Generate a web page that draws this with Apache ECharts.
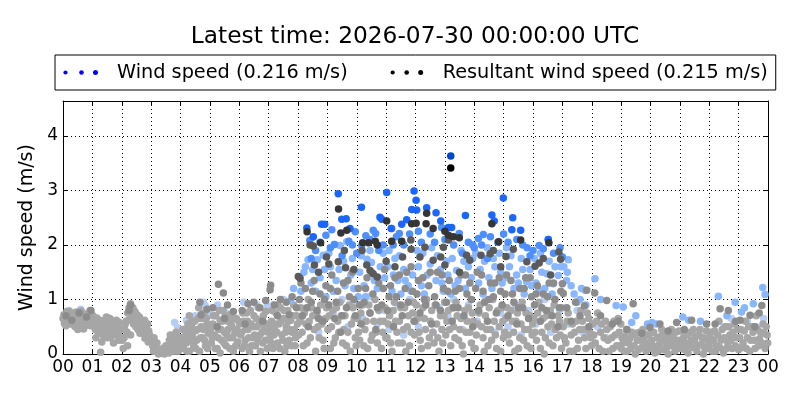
<!DOCTYPE html>
<html><head><meta charset="utf-8">
<script src="https://cdn.jsdelivr.net/npm/echarts/dist/echarts.min.js"></script>
<style>html,body{margin:0;padding:0;background:#fff}#c{width:800px;height:400px}</style>
</head><body><div id="c"></div>
<script>
const titleText = 'Latest time: 2026-07-30 00:00:00 UTC';
const windLabel = 'Wind speed (0.216 m/s)';
const resLabel = 'Resultant wind speed (0.215 m/s)';
const yAxisName = 'Wind speed (m/s)';
const hourLabels = ['00','01','02','03','04','05','06','07','08','09','10','11','12','13','14','15','16','17','18','19','20','21','22','23','00'];
const yTickLabels = ['0','1','2','3','4'];

// oldest wind speed (very light blue)
const windOld = [
[0.2,0.8],[0.6,0.82],[3.8,0.58],[3.9,0.48],[4.2,0.62],[4.5,0.7],[4.78,0.95],[4.85,0.88],[5.26,0.9],[5.55,0.75],[5.0,0.72],[6.15,0.95],[6.6,0.9],[6.95,0.88],[7.15,0.9],[7.65,0.6],[7.5,1.0],
[8.1,0.6],[8.4,0.85],[8.7,0.4],[8.9,0.95],[9.2,0.75],[9.5,1.0],[9.7,0.5],[9.95,0.9],[10.2,0.65],[10.4,1.05],[10.7,0.55],[10.95,0.8],[11.1,0.45],[11.4,0.9],[11.6,0.35],[11.8,1.0],[12.1,0.5],[12.35,0.95],[12.6,0.4],[12.8,0.85],[13.1,0.7],[13.3,1.0],[13.6,0.45],[13.8,0.9],[14.1,0.6],[14.4,1.0],[14.7,0.4],[14.9,0.75],[15.15,0.5],[15.4,0.9],[15.6,0.35],[15.85,0.8],[16.1,0.55],[16.4,1.0],[16.6,0.4],[16.9,0.8],[17.2,0.55],[17.5,0.8],[17.7,0.4],[18.2,0.5],[18.5,0.3],[18.75,0.6],[19.1,0.35],[19.6,0.3],[20.5,0.25],[21.4,0.3],[21.9,0.35],[22.5,0.5],[22.75,0.65],[23.05,0.45],[23.3,0.6],[23.6,0.5],[23.85,0.65]
];

// oldest values, both quantities (light grey)
const oldGrey = [
[0.03,0.72],[0.08,0.6],[0.13,0.78],[0.19,0.65],[0.24,0.55],[0.3,0.74],[0.35,0.67],[0.41,0.5],[0.46,0.77],[0.52,0.62],[0.57,0.7],[0.62,0.79],[0.68,0.56],[0.73,0.66],[0.78,0.73],[0.84,0.6],[0.89,0.76],[0.94,0.52],[0.98,0.69],[0.05,0.56],[0.5,0.45],[0.7,0.46],[0.92,0.8],
[0.0,0.65],[0.1,0.52],[0.16,0.7],[0.22,0.78],[0.27,0.62],[0.33,0.55],[0.38,0.75],[0.44,0.6],[0.49,0.7],[0.55,0.53],[0.6,0.65],[0.65,0.72],[0.71,0.6],[0.76,0.52],[0.81,0.7],[0.87,0.64],[0.91,0.58],[0.96,0.74],
[1.05,0.6],[1.1,0.45],[1.15,0.66],[1.2,0.38],[1.3,0.52],[1.32,0.22],[1.28,0.03],[1.4,0.62],[1.45,0.42],[1.5,0.3],[1.55,0.55],[1.6,0.65],[1.65,0.4],[1.7,0.48],[1.75,0.6],[1.8,0.35],[1.85,0.56],[1.9,0.25],[1.95,0.45],[1.38,0.33],[1.72,0.2],
[1.02,0.7],[1.08,0.55],[1.12,0.3],[1.18,0.5],[1.24,0.62],[1.35,0.45],[1.42,0.55],[1.48,0.68],[1.52,0.4],[1.58,0.48],[1.62,0.3],[1.68,0.58],[1.78,0.45],[1.82,0.62],[1.88,0.4],[1.92,0.58],[1.98,0.3],
[2.05,0.1],[2.02,0.25],[2.1,0.45],[2.15,0.6],[2.2,0.75],[2.25,0.85],[2.3,0.92],[2.35,0.7],[2.4,0.55],[2.45,0.78],[2.5,0.62],[2.55,0.45],[2.6,0.68],[2.65,0.5],[2.7,0.58],[2.75,0.4],[2.8,0.52],[2.79,0.29],[2.85,0.45],[2.9,0.22],[2.95,0.35],[2.3,0.35],[2.2,0.15],
[2.08,0.3],[2.12,0.55],[2.18,0.4],[2.22,0.62],[2.28,0.78],[2.38,0.85],[2.42,0.65],[2.48,0.5],[2.52,0.72],[2.58,0.55],[2.62,0.38],[2.68,0.62],[2.72,0.48],[2.78,0.62],[2.82,0.35],[2.88,0.55],[2.92,0.42],[2.98,0.25],
[3.05,0.15],[3.1,0.3],[3.15,0.05],[3.2,0.2],[3.3,0.02],[3.4,0.1],[3.5,0.05],[3.55,0.15],[3.6,0.02],[3.65,0.35],[3.7,0.1],[3.75,0.25],[3.8,0.05],[3.85,0.4],[3.9,0.15],[3.95,0.3],[3.45,0.0],[3.25,0.0],
[3.02,0.25],[3.08,0.05],[3.12,0.2],[3.18,0.1],[3.35,0.05],[3.5,0.15],[3.58,0.05],[3.62,0.25],[3.68,0.05],[3.72,0.18],[3.78,0.35],[3.82,0.15],[3.88,0.28],[3.92,0.05],[3.98,0.2],[3.4,0.02],[3.48,0.08],
[4.05,0.3],[4.1,0.1],[4.15,0.45],[4.2,0.2],[4.25,0.55],[4.3,0.05],[4.35,0.35],[4.4,0.6],[4.45,0.15],[4.5,0.42],[4.55,0.25],[4.6,0.65],[4.65,0.05],[4.7,0.5],[4.75,0.3],[4.8,0.75],[4.85,0.15],[4.9,0.55],[4.95,0.38],[4.62,0.85],[4.3,0.7],
[4.02,0.15],[4.08,0.45],[4.12,0.25],[4.18,0.35],[4.22,0.05],[4.28,0.4],[4.32,0.25],[4.38,0.5],[4.42,0.3],[4.48,0.6],[4.52,0.1],[4.58,0.45],[4.68,0.3],[4.72,0.65],[4.78,0.45],[4.82,0.25],[4.88,0.65],[4.92,0.1],[4.98,0.5],
[5.05,0.2],[5.1,0.55],[5.15,0.35],[5.2,0.7],[5.25,0.1],[5.3,0.45],[5.35,0.62],[5.4,0.25],[5.45,0.8],[5.5,0.4],[5.55,0.15],[5.6,0.6],[5.65,0.3],[5.7,0.72],[5.75,0.5],[5.8,0.05],[5.85,0.38],[5.9,0.65],[5.95,0.22],[5.35,0.02],
[5.02,0.45],[5.08,0.3],[5.12,0.7],[5.18,0.1],[5.22,0.5],[5.28,0.3],[5.32,0.8],[5.38,0.45],[5.42,0.6],[5.48,0.2],[5.52,0.7],[5.58,0.35],[5.62,0.45],[5.68,0.1],[5.72,0.55],[5.78,0.3],[5.82,0.65],[5.88,0.15],[5.92,0.45],[5.98,0.6],
[6.05,0.35],[6.1,0.1],[6.15,0.6],[6.2,0.25],[6.25,0.75],[6.3,0.45],[6.35,0.05],[6.4,0.55],[6.45,0.3],[6.5,0.7],[6.55,0.15],[6.6,0.5],[6.65,0.85],[6.7,0.35],[6.75,0.62],[6.8,0.2],[6.85,0.45],[6.9,0.78],[6.95,0.1],
[6.02,0.55],[6.08,0.4],[6.12,0.75],[6.18,0.15],[6.22,0.45],[6.28,0.6],[6.32,0.3],[6.38,0.8],[6.42,0.15],[6.48,0.5],[6.52,0.35],[6.58,0.65],[6.62,0.25],[6.68,0.55],[6.72,0.05],[6.78,0.4],[6.82,0.7],[6.88,0.25],[6.92,0.55],[6.98,0.4],
[7.05,0.3],[7.1,0.6],[7.15,0.1],[7.2,0.45],[7.25,0.75],[7.3,0.2],[7.35,0.55],[7.4,0.85],[7.45,0.35],[7.5,0.65],[7.55,0.05],[7.6,0.5],[7.65,0.8],[7.7,0.25],[7.75,0.62],[7.8,0.4],[7.85,0.9],[7.9,0.15],[7.95,0.7],
[7.02,0.5],[7.08,0.2],[7.12,0.8],[7.18,0.35],[7.22,0.55],[7.28,0.4],[7.32,0.9],[7.38,0.1],[7.42,0.6],[7.48,0.25],[7.52,0.8],[7.58,0.4],[7.62,0.15],[7.68,0.6],[7.72,0.45],[7.78,0.15],[7.82,0.7],[7.88,0.45],[7.92,0.3],[7.98,0.55],
[8.02,0.35],[8.1,0.85],[8.18,0.15],[8.27,0.55],[8.35,1.0],[8.42,0.3],[8.5,0.7],[8.6,0.05],[8.68,0.5],[8.77,0.9],[8.85,0.25],[8.93,0.65],
[8.06,0.6],[8.14,0.4],[8.22,0.75],[8.31,0.2],[8.38,0.6],[8.46,0.85],[8.55,0.45],[8.64,0.75],[8.72,0.3],[8.81,0.55],[8.89,0.1],[8.97,0.85],
[9.02,0.45],[9.1,0.1],[9.18,0.8],[9.27,0.3],[9.35,0.6],[9.43,0.95],[9.52,0.2],[9.6,0.7],[9.7,0.4],[9.78,0.05],[9.87,0.85],[9.95,0.3],
[9.06,0.7],[9.14,0.5],[9.22,0.2],[9.31,0.85],[9.39,0.4],[9.47,0.7],[9.56,0.45],[9.65,0.15],[9.74,0.9],[9.82,0.55],[9.91,0.65],[9.98,0.15],
[10.02,0.65],[10.1,0.25],[10.2,0.9],[10.28,0.45],[10.37,0.1],[10.45,0.75],[10.53,0.35],[10.62,1.0],[10.7,0.2],[10.8,0.6],[10.88,0.4],[10.96,0.85],
[10.06,0.4],[10.14,0.75],[10.24,0.15],[10.32,0.6],[10.41,0.9],[10.49,0.25],[10.58,0.6],[10.66,0.4],[10.75,0.8],[10.84,0.1],[10.92,0.6],[10.99,0.3],
[11.03,0.3],[11.12,0.7],[11.2,0.05],[11.28,0.95],[11.37,0.4],[11.45,0.6],[11.55,0.2],[11.63,0.85],[11.72,0.5],[11.8,0.15],[11.9,0.75],[11.97,0.35],
[11.07,0.55],[11.16,0.2],[11.24,0.8],[11.32,0.6],[11.41,0.2],[11.5,0.85],[11.59,0.45],[11.67,0.05],[11.76,0.7],[11.85,0.4],[11.93,0.95],[11.99,0.6],
[12.03,0.9],[12.12,0.4],[12.2,0.1],[12.3,0.65],[12.38,1.0],[12.47,0.3],[12.55,0.8],[12.63,0.2],[12.72,0.55],[12.8,0.05],[12.9,0.45],[12.97,0.7],
[12.07,0.65],[12.16,0.25],[12.25,0.85],[12.34,0.45],[12.42,0.15],[12.51,0.6],[12.59,0.4],[12.67,0.9],[12.76,0.3],[12.85,0.7],[12.93,0.2],[12.99,0.95],
[13.03,0.35],[13.12,0.8],[13.2,0.15],[13.3,0.5],[13.38,0.95],[13.47,0.25],[13.55,0.65],[13.63,0.0],[13.72,0.4],[13.8,0.85],[13.9,0.2],[13.97,0.6],
[13.07,0.6],[13.16,0.45],[13.25,0.85],[13.34,0.3],[13.42,0.7],[13.51,0.45],[13.59,0.15],[13.68,0.8],[13.76,0.6],[13.85,0.4],[13.93,0.75],[13.99,0.1],
[14.03,0.1],[14.12,0.55],[14.2,0.9],[14.3,0.3],[14.38,0.7],[14.47,0.15],[14.55,0.45],[14.63,1.0],[14.72,0.35],[14.8,0.8],[14.9,0.05],[14.97,0.6],
[14.07,0.35],[14.16,0.75],[14.25,0.5],[14.34,0.05],[14.42,0.45],[14.51,0.85],[14.59,0.25],[14.68,0.6],[14.76,0.1],[14.85,0.5],[14.93,0.85],[14.99,0.3],
[15.03,0.4],[15.12,0.85],[15.2,0.2],[15.3,0.6],[15.38,0.05],[15.47,0.75],[15.55,0.3],[15.63,0.95],[15.72,0.45],[15.8,0.15],[15.9,0.7],[15.97,0.35],
[15.07,0.65],[15.16,0.35],[15.25,0.8],[15.34,0.4],[15.42,0.6],[15.51,0.1],[15.59,0.55],[15.68,0.25],[15.76,0.75],[15.85,0.45],[15.93,0.1],[15.99,0.55],
[16.03,0.65],[16.12,0.25],[16.2,0.95],[16.3,0.4],[16.38,0.0],[16.47,0.7],[16.55,0.2],[16.63,0.55],[16.72,0.9],[16.8,0.3],[16.9,0.6],[16.97,0.1],
[16.07,0.4],[16.16,0.75],[16.25,0.1],[16.34,0.65],[16.42,0.3],[16.51,0.5],[16.59,0.8],[16.68,0.15],[16.76,0.45],[16.85,0.7],[16.93,0.35],[16.99,0.85],
[17.03,0.5],[17.12,0.2],[17.2,0.75],[17.3,0.35],[17.38,0.05],[17.47,0.6],[17.55,0.25],[17.63,0.8],[17.72,0.45],[17.8,0.1],[17.9,0.65],[17.97,0.3],
[17.07,0.3],[17.16,0.6],[17.25,0.05],[17.34,0.55],[17.42,0.4],[17.51,0.1],[17.59,0.45],[17.68,0.6],[17.76,0.3],[17.85,0.75],[17.93,0.4],[17.99,0.15],
[18.03,0.55],[18.12,0.2],[18.2,0.75],[18.3,0.4],[18.38,0.05],[18.47,0.6],[18.55,0.25],[18.63,0.5],[18.72,0.1],[18.8,0.35],[18.9,0.65],[18.97,0.15],
[18.07,0.35],[18.16,0.6],[18.25,0.1],[18.34,0.55],[18.42,0.3],[18.51,0.45],[18.59,0.05],[18.68,0.3],[18.76,0.6],[18.85,0.15],[18.93,0.4],[18.99,0.55],
[19.03,0.3],[19.1,0.05],[19.18,0.45],[19.25,0.2],[19.33,0.1],[19.4,0.35],[19.48,0.0],[19.55,0.25],[19.63,0.4],[19.7,0.12],[19.78,0.3],[19.85,0.05],[19.93,0.2],
[19.0,0.1],[19.07,0.2],[19.14,0.32],[19.21,0.05],[19.29,0.28],[19.36,0.4],[19.44,0.15],[19.51,0.38],[19.59,0.08],[19.66,0.25],[19.74,0.45],[19.81,0.18],[19.89,0.35],[19.96,0.1],
[20.0,0.38],[20.08,0.15],[20.15,0.02],[20.23,0.3],[20.3,0.18],[20.38,0.45],[20.45,0.08],[20.53,0.28],[20.6,0.0],[20.68,0.35],[20.75,0.15],[20.83,0.05],[20.9,0.25],[20.97,0.42],
[20.04,0.25],[20.11,0.4],[20.19,0.12],[20.26,0.05],[20.34,0.32],[20.41,0.22],[20.49,0.38],[20.56,0.12],[20.64,0.22],[20.71,0.45],[20.79,0.28],[20.86,0.4],[20.94,0.1],[20.99,0.2],
[21.05,0.1],[21.12,0.3],[21.2,0.2],[21.28,0.02],[21.35,0.4],[21.43,0.12],[21.5,0.25],[21.58,0.05],[21.65,0.35],[21.73,0.18],[21.8,0.0],[21.88,0.28],[21.95,0.1],
[21.02,0.25],[21.09,0.42],[21.16,0.08],[21.24,0.35],[21.31,0.15],[21.39,0.25],[21.46,0.45],[21.54,0.32],[21.61,0.15],[21.69,0.45],[21.76,0.3],[21.84,0.12],[21.91,0.42],[21.98,0.22],
[22.03,0.3],[22.1,0.05],[22.18,0.42],[22.25,0.15],[22.33,0.6],[22.4,0.25],[22.48,0.02],[22.55,0.5],[22.63,0.2],[22.7,0.35],[22.78,0.1],[22.85,0.55],[22.93,0.3],
[22.0,0.15],[22.07,0.4],[22.14,0.25],[22.21,0.05],[22.29,0.35],[22.36,0.12],[22.44,0.45],[22.51,0.3],[22.59,0.1],[22.66,0.5],[22.74,0.25],[22.81,0.4],[22.89,0.15],[22.96,0.45],
[23.0,0.08],[23.08,0.45],[23.15,0.2],[23.23,0.6],[23.3,0.3],[23.38,0.05],[23.45,0.5],[23.53,0.25],[23.6,0.7],[23.68,0.15],[23.75,0.4],[23.83,0.55],[23.9,0.1],[23.97,0.35],
[23.04,0.3],[23.11,0.12],[23.19,0.42],[23.26,0.1],[23.34,0.5],[23.41,0.25],[23.49,0.4],[23.56,0.1],[23.64,0.45],[23.71,0.28],[23.79,0.2],[23.86,0.38],[23.94,0.5],[23.99,0.2]
];

// older wind speed (light blue)
const windMid = [
[7.85,1.2],[7.75,0.98],
[8.34,1.73],[8.66,1.73],[8.2,1.5],[8.45,1.3],[8.86,1.81],[8.1,1.15],[8.75,1.4],
[9.43,1.99],[9.66,2.06],[9.24,2.01],[9.1,1.6],[9.3,1.35],[9.55,1.7],[9.8,1.45],[9.9,1.2],
[10.35,1.74],[10.5,1.68],[10.1,1.5],[10.25,1.25],[10.6,1.35],[10.8,1.6],[10.9,1.85],[10.05,1.05],
[11.1,1.9],[11.3,1.75],[11.4,1.35],[11.6,1.55],[11.75,1.25],[11.9,1.45],[11.5,1.1],[11.2,1.15],
[12.1,1.6],[12.25,1.85],[12.4,1.45],[12.55,1.95],[12.7,1.35],[12.85,1.55],[12.95,1.15],[12.2,1.25],
[13.4,1.53],[13.55,1.9],[13.65,1.7],[13.8,1.6],[13.25,1.75],[13.1,1.45],[13.35,1.25],[13.9,1.4],
[14.05,1.85],[14.2,1.55],[14.35,1.7],[14.5,1.4],[14.7,1.6],[14.85,1.85],[14.6,1.2],[14.95,1.3],
[15.1,1.95],[15.2,1.6],[15.44,1.45],[15.6,1.75],[15.78,1.33],[15.9,1.55],[15.35,1.2],[15.7,1.1],
[16.47,1.47],[16.69,1.29],[16.86,1.44],[16.1,1.3],[16.3,1.5],[16.55,1.7],[16.75,1.6],[16.2,1.15],
[17.2,1.73],[17.17,1.5],[17.14,1.35],[17.4,1.1],[17.6,1.0],[17.77,1.17],[17.8,0.9],[18.11,1.38],[18.3,1.0],
[18.83,0.89],[19.07,0.86],[19.36,0.58],[19.5,0.7],[19.9,0.55],[20.05,0.58],[20.2,0.55],[21.1,0.68],[21.3,0.62],[21.7,0.6],
[22.31,1.06],[22.88,0.95],[23.1,0.77],[23.5,0.92],[23.82,1.22],[23.9,1.09],[23.2,0.85],[22.6,0.7],
[8.25,1.6],[8.5,1.55],[8.6,1.15],[8.9,1.55],[8.95,1.05],
[9.05,1.85],[9.2,1.15],[9.4,1.55],[9.6,1.25],[9.85,1.75],
[10.15,1.8],[10.3,1.05],[10.45,1.9],[10.7,1.2],[10.95,1.4],
[11.05,1.6],[11.25,1.45],[11.45,1.8],[11.65,1.35],[11.85,1.15],
[12.05,1.9],[12.3,1.1],[12.5,1.65],[12.75,1.8],[12.9,1.3],
[13.05,1.7],[13.2,1.1],[13.45,1.35],[13.7,1.2],[13.95,1.75],
[14.15,1.3],[14.3,1.1],[14.45,1.95],[14.65,1.75],[14.9,1.5],
[15.05,1.4],[15.25,1.8],[15.5,1.3],[15.65,1.55],[15.95,1.25],
[16.05,1.75],[16.25,1.85],[16.4,1.2],[16.65,1.1],[16.95,1.6],
[17.05,1.6],[17.3,1.25],[17.5,0.95],[17.65,1.2]
];

// older values (mid grey)
const midGrey = [
[0.1,0.7],[0.3,0.62],[0.55,0.75],[0.8,0.68],[0.95,0.8],[2.3,0.9],[2.25,0.8],
[4.66,0.95],[4.9,0.82],[4.7,0.72],
[5.29,1.28],[5.46,1.12],[5.1,0.85],[5.6,0.9],[5.8,0.78],[5.5,0.65],[5.25,0.5],
[6.1,0.8],[6.3,0.92],[6.5,0.95],[6.7,0.85],[6.9,0.98],[6.2,0.55],[6.8,0.6],
[7.05,1.18],[7.07,1.26],[7.2,0.9],[7.4,1.0],[7.6,0.95],[7.8,1.05],[7.95,0.85],[7.3,0.7],[7.7,0.72],
[8.05,1.0],[8.15,0.7],[8.25,1.2],[8.35,0.5],[8.45,0.95],[8.55,1.35],[8.65,0.8],[8.75,1.1],[8.85,0.6],[8.95,1.25],
[9.05,0.9],[9.15,1.45],[9.25,0.65],[9.35,1.15],[9.45,0.4],[9.55,1.3],[9.65,0.85],[9.75,1.05],[9.85,1.5],[9.95,0.7],
[10.05,1.2],[10.15,0.55],[10.25,0.95],[10.35,1.4],[10.45,0.75],[10.55,1.1],[10.65,0.45],[10.75,1.3],[10.85,0.9],[10.95,1.55],
[11.05,0.8],[11.15,1.25],[11.25,0.5],[11.35,1.05],[11.45,1.45],[11.55,0.7],[11.65,1.2],[11.75,0.95],[11.85,1.6],[11.95,0.6],
[12.05,1.1],[12.15,0.75],[12.25,1.4],[12.35,0.9],[12.45,1.25],[12.55,0.55],[12.65,1.05],[12.75,1.5],[12.85,0.8],[12.95,1.2],
[13.05,0.95],[13.15,1.35],[13.25,0.6],[13.35,1.15],[13.45,0.85],[13.55,1.45],[13.65,0.7],[13.75,1.1],[13.85,1.3],[13.95,0.5],
[14.05,1.2],[14.15,0.8],[14.25,1.45],[14.35,0.95],[14.45,0.6],[14.55,1.3],[14.65,1.05],[14.75,0.75],[14.85,1.4],[14.95,0.9],
[15.05,1.1],[15.15,0.7],[15.25,1.35],[15.35,0.95],[15.45,0.55],[15.55,1.2],[15.65,0.85],[15.75,1.4],[15.85,0.65],[15.95,1.05],
[16.05,0.9],[16.15,1.25],[16.25,0.6],[16.35,1.1],[16.45,0.8],[16.55,1.3],[16.65,0.7],[16.75,1.0],[16.85,0.5],[16.95,1.15],
[17.0,1.29],[17.03,1.11],[17.15,0.85],[17.3,0.6],[17.45,0.95],[17.6,0.7],[17.75,0.88],[17.9,0.5],[17.83,1.17],
[18.1,1.12],[18.51,0.98],[18.3,0.7],[18.7,0.55],[18.9,0.6],[19.41,0.92],[19.2,0.45],[19.7,0.38],[19.98,0.49],[20.32,0.55],[20.6,0.42],[20.89,0.58],[21.15,0.45],[21.4,0.62],[21.91,0.55],
[22.2,0.55],[22.37,0.83],[22.65,0.8],[22.9,0.6],[23.05,0.62],[23.39,0.71],[23.55,0.5],[23.7,0.75],[23.79,0.89],
[8.1,1.3],[8.3,0.85],[8.5,1.15],[8.7,0.65],[8.9,1.0],
[9.1,1.2],[9.3,0.95],[9.5,0.7],[9.7,1.35],[9.9,1.0],
[10.1,0.9],[10.3,1.2],[10.5,1.5],[10.7,0.85],[10.9,1.2],
[11.1,1.05],[11.3,1.4],[11.5,0.9],[11.7,1.5],[11.9,1.15],
[12.1,1.35],[12.3,1.0],[12.5,1.5],[12.7,0.9],[12.9,1.45],
[13.1,1.15],[13.3,0.85],[13.5,1.2],[13.7,1.45],[13.9,1.0],
[14.1,1.5],[14.3,1.15],[14.5,1.0],[14.7,1.3],[14.9,1.15],
[15.1,1.45],[15.3,1.1],[15.5,0.85],[15.7,1.2],[15.9,1.4],
[16.1,1.1],[16.3,0.85],[16.5,1.05],[16.7,1.3],[16.9,0.85]
];

// recent wind speed (blue)
const windRecent = [
[8.4,2.08],[8.6,1.9],[8.95,2.18],[9.15,2.28],[9.24,2.01],[9.5,1.8],[9.73,2.07],[9.95,2.24],[10.0,1.85],[10.17,1.99],[10.31,2.17],[10.56,2.27],[10.64,2.21],[10.9,2.0],
[11.19,2.3],[11.24,2.0],[11.45,2.21],[11.6,2.0],[12.2,2.05],[12.5,2.2],[12.89,2.32],[13.0,2.1],[13.49,2.21],[13.6,1.85],[13.95,2.0],[14.0,1.95],[14.14,2.12],[14.31,2.19],
[14.45,1.75],[14.8,2.05],[15.0,2.2],[15.8,1.95],[15.9,1.8],[16.21,1.99],[16.35,1.93],[16.52,2.1],[16.92,1.95],
[8.45,1.75],[8.75,2.05],[9.1,1.95],[9.85,2.0],[10.45,2.1],[10.75,1.9],[11.35,2.15],[11.8,2.2],[12.1,2.25],[12.65,2.05],[13.3,2.0],[13.8,2.05],[14.25,2.0],[14.55,2.15],[15.15,2.05],[15.45,2.1],[15.65,2.0],[16.0,1.9],[16.7,1.85],[17.0,1.78]
];

// recent resultant (dark grey)
const resRecent = [
[8.01,1.42],[8.07,1.39],[8.41,2.0],[8.52,1.98],[8.56,1.63],[8.7,1.5],[8.97,1.78],[9.05,1.65],[9.37,1.69],[9.58,1.9],[9.62,1.58],[9.9,1.55],[10.18,1.9],[10.34,1.63],[10.45,1.53],[10.56,1.47],[10.7,1.41],
[11.0,1.7],[11.3,1.6],[11.56,1.78],[11.84,2.09],[11.85,1.92],[12.15,1.78],[12.32,1.96],[12.6,1.72],[12.86,1.78],[12.95,1.96],[13.0,1.63],[13.12,2.09],[13.5,1.5],[13.74,1.81],[13.85,1.72],
[14.23,1.81],[14.54,1.84],[14.65,1.9],[14.9,1.6],[15.08,1.79],[15.33,1.92],[15.79,1.69],[16.07,1.61],[16.21,1.67],[16.35,1.75],[16.6,1.45],[16.88,1.87],[16.94,1.74]
];

// latest days wind speed (bright blue)
const windLatest = [
[8.3,2.31],[8.52,2.15],[8.8,2.38],[8.91,2.38],[9.37,2.94],[9.49,2.47],[9.64,2.48],[9.77,2.3],[10.16,2.69],[10.79,2.51],[10.85,2.47],[11.02,2.96],[11.17,2.3],[11.53,2.38],[11.7,2.46],
[11.87,2.65],[11.95,2.99],[12.02,2.82],[12.04,2.64],[12.38,2.68],[12.7,2.59],[12.86,2.44],[13.12,2.32],[13.23,2.32],[13.7,2.54],[14.6,2.55],[14.68,2.44],[14.99,2.86],[15.28,2.28],[15.31,2.5],[15.58,2.27],[16.52,2.1]
];

// latest days resultant (near black)
const resLatest = [
[8.31,2.24],[8.77,2.04],[9.38,2.66],[9.46,2.22],[9.66,2.27],[10.2,2.04],[10.4,2.04],[10.63,2.07],[10.7,2.0],[11.02,2.44],[11.19,2.07],[11.53,2.07],[11.87,2.39],[12.02,2.4],
[12.36,2.39],[12.38,2.58],[12.6,2.3],[13.0,2.25],[13.12,2.18],[13.29,2.15],[13.49,2.13],[14.6,2.39],[14.83,2.06],[15.58,2.09],[16.54,2.04]
];

// highest single readings
const windPeak = [[13.2,3.63]];
const resPeak = [[13.2,3.41]];

function dotsIcon(color, xs, rs) {
  let s = "<svg xmlns='http://www.w3.org/2000/svg' width='52' height='10'>";
  for (let i = 0; i < xs.length; i++) s += "<circle cx='" + xs[i] + "' cy='5' r='" + rs[i] + "' fill='" + color + "'/>";
  s += "</svg>";
  return 'image://data:image/svg+xml;charset=utf-8,' + encodeURIComponent(s);
}

const FONT = 'DejaVu Sans';
function sc(name, data, color, size) {
  return { name: name, type: 'scatter', data: data, symbol: 'circle', symbolSize: size || 7.5,
    itemStyle: { color: color, opacity: 1 }, silent: true, animation: false };
}

const chart = echarts.init(document.getElementById('c'), null, { renderer: 'canvas' });
chart.setOption({
  backgroundColor: '#fff',
  animation: false,
  title: { text: titleText, left: 410, top: 20, textAlign: 'center',
    textStyle: { fontFamily: FONT, fontSize: 23.3, fontWeight: 'normal', color: '#000' } },
  legend: {
    left: 55, top: 55, padding: [8, 8, 8, 5], itemGap: 38, itemWidth: 52, itemHeight: 10,
    borderColor: '#000', borderWidth: 1, backgroundColor: '#fff', selectedMode: false,
    textStyle: { fontFamily: FONT, fontSize: 19.3, color: '#000', lineHeight: 19 },
    data: [
      { name: windLabel, icon: dotsIcon('#0000ff', [5.5, 21.5, 35.5], [2.1, 2.3, 2.5]) },
      { name: resLabel, icon: dotsIcon('#000000', [7, 21, 35], [2.1, 2.3, 2.5]) }
    ]
  },
  grid: { left: 63, right: 32, top: 101, bottom: 46, containLabel: false },
  xAxis: [
    { type: 'value', min: 0, max: 24, interval: 1, position: 'bottom',
      axisLine: { show: true, onZero: false, lineStyle: { color: '#000', width: 1 } },
      axisTick: { show: true, inside: true, length: 5, lineStyle: { color: '#000' } },
      axisLabel: { margin: 5, fontFamily: FONT, fontSize: 17, color: '#000',
        formatter: v => (Number.isInteger(v) ? hourLabels[v] : '') },
      splitLine: { show: true, lineStyle: { color: '#000', width: 1, type: [1, 3] } } },
    { type: 'value', min: 0, max: 24, interval: 1, position: 'top',
      axisLine: { show: true, onZero: false, lineStyle: { color: '#000', width: 1 } },
      axisTick: { show: true, inside: true, length: 5, lineStyle: { color: '#000' } },
      axisLabel: { show: false }, splitLine: { show: false } }
  ],
  yAxis: [
    { type: 'value', min: 0, max: 4.64, interval: 1, position: 'left',
      name: yAxisName, nameLocation: 'middle', nameGap: 24,
      nameTextStyle: { fontFamily: FONT, fontSize: 19, color: '#000' },
      axisLine: { show: true, onZero: false, lineStyle: { color: '#000', width: 1 } },
      axisTick: { show: true, inside: true, length: 5, lineStyle: { color: '#000' } },
      axisLabel: { margin: 5, fontFamily: FONT, fontSize: 17, color: '#000',
        formatter: v => (Number.isInteger(v) && v < yTickLabels.length ? yTickLabels[v] : '') },
      splitLine: { show: true, lineStyle: { color: '#000', width: 1, type: [1, 3] } } },
    { type: 'value', min: 0, max: 4.64, interval: 1, position: 'right',
      axisLine: { show: true, onZero: false, lineStyle: { color: '#000', width: 1 } },
      axisTick: { show: true, inside: true, length: 5, lineStyle: { color: '#000' } },
      axisLabel: { show: false }, splitLine: { show: false } }
  ],
  series: [
    sc('windOld', windOld, '#b5cdf5'),
    sc('oldGrey', oldGrey, '#a6a6a6'),
    sc('windMid', windMid, '#88b6ff'),
    sc('midGrey', midGrey, '#8c8c8c'),
    sc('windRecent', windRecent, '#4d8fff'),
    sc('resRecent', resRecent, '#5a5a5a'),
    sc(windLabel, windLatest, '#1a66ff'),
    sc(resLabel, resLatest, '#353535'),
    sc('windPeak', windPeak, '#0047d0'),
    sc('resPeak', resPeak, '#000000')
  ]
});
</script>
</body></html>
